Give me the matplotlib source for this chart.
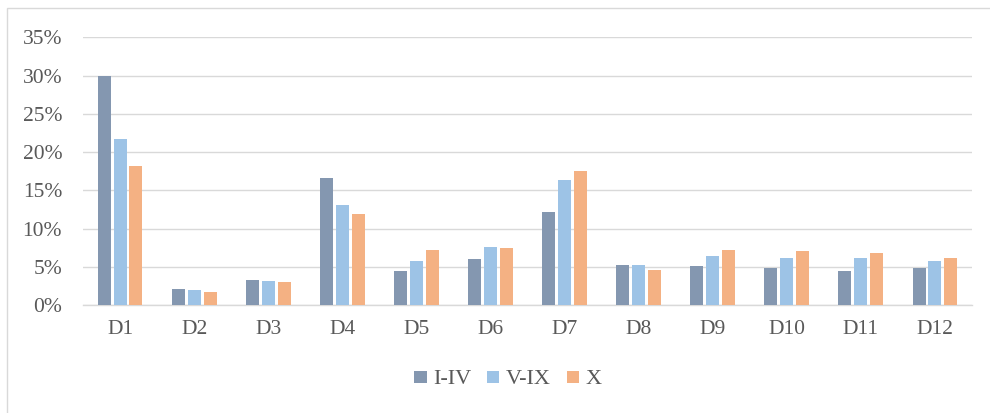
import matplotlib
matplotlib.use("Agg")
import matplotlib.pyplot as plt
import numpy as np
from matplotlib.patches import Rectangle
from matplotlib.ticker import FuncFormatter, MultipleLocator

categories = ["D1", "D2", "D3", "D4", "D5", "D6", "D7", "D8", "D9", "D10", "D11", "D12"]
series_names = ["I-IV", "V-IX", "X"]
s_i_iv = [29.9, 2.1, 3.3, 16.6, 4.5, 6.0, 12.1, 5.2, 5.1, 4.9, 4.4, 4.8]
s_v_ix = [21.7, 2.0, 3.1, 13.1, 5.7, 7.6, 16.3, 5.2, 6.4, 6.1, 6.1, 5.7]
s_x = [18.2, 1.7, 3.0, 11.9, 7.2, 7.5, 17.5, 4.6, 7.2, 7.1, 6.8, 6.1]
colors = ["#8497B0", "#9DC3E6", "#F4B183"]

plt.rcParams['font.family'] = ['Liberation Serif', 'DejaVu Serif']
text_color = "#595959"

fig = plt.figure(figsize=(9.9, 4.13), dpi=100)
W, H = 990, 413
ax = fig.add_axes([83 / W, 1 - 305 / H, (972 - 83) / W, (305 - 37.3) / H])

x = np.arange(len(categories))
width = 0.175
offsets = [-0.215, 0.0, 0.215]
for vals, off, c, name in zip([s_i_iv, s_v_ix, s_x], offsets, colors, series_names):
    ax.bar(x + off, vals, width, color=c, label=name, zorder=3)

ax.set_xlim(-0.5, len(categories) - 0.5)
ax.set_ylim(0, 35)
ax.yaxis.set_major_locator(MultipleLocator(5))
ax.yaxis.set_major_formatter(FuncFormatter(lambda v, p: f"{v:.0f}%"))
ax.set_xticks(x)
ax.set_xticklabels(categories)
ax.grid(axis='y', color="#D9D9D9", linewidth=1.0, zorder=0)
ax.set_axisbelow(True)
for s in ["top", "right", "left"]:
    ax.spines[s].set_visible(False)
ax.spines["bottom"].set_color("#D9D9D9")
ax.spines["bottom"].set_linewidth(1.0)
ax.tick_params(axis='both', length=0, labelsize=15.5, colors=text_color)
ax.tick_params(axis='y', pad=15)
ax.tick_params(axis='x', pad=10.5)

fig.legend(loc='center', bbox_to_anchor=(508 / W, 1 - 380 / H), ncol=3, frameon=False,
           fontsize=16, handlelength=0.55, handleheight=0.45, handletextpad=0.3,
           columnspacing=0.7, labelcolor=text_color)

fig.patches.append(Rectangle((7 / W, -0.05), (1000 - 7) / W, 1 - 8 / H + 0.05,
                             transform=fig.transFigure, fill=False,
                             edgecolor="#D9D9D9", linewidth=1.0))

fig.savefig("out.png", dpi=100)
